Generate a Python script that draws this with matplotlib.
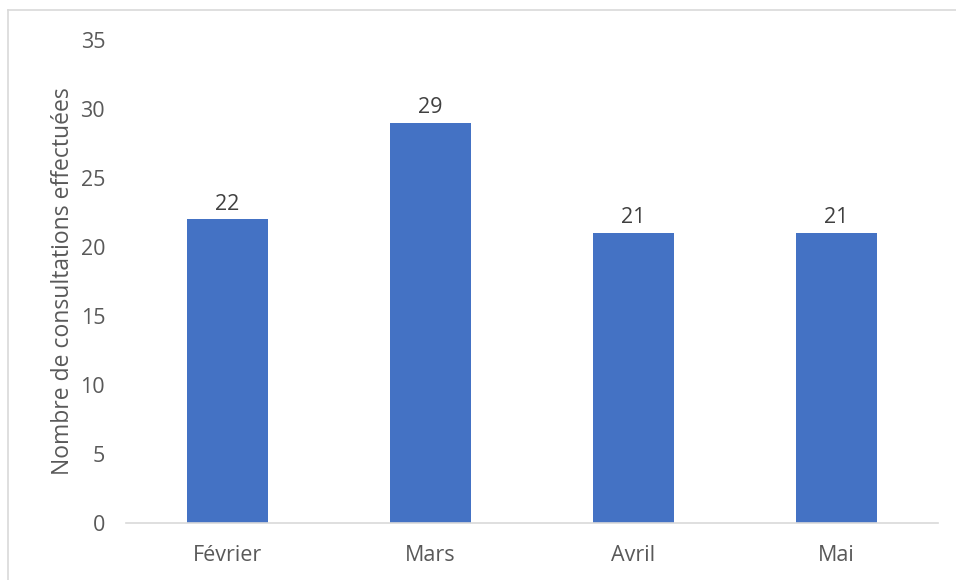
import matplotlib.pyplot as plt
from matplotlib.lines import Line2D

mois = ['Février', 'Mars', 'Avril', 'Mai']
consultations = [22, 29, 21, 21]
y_ticks = [0, 5, 10, 15, 20, 25, 30, 35]

plt.rcParams['font.family'] = ['Open Sans', 'DejaVu Sans']

fig = plt.figure(figsize=(9.56, 5.8), dpi=100)
ax = fig.add_axes([0.1318, 0.0983, 0.8492, 0.8327])

x = range(len(mois))
bars = ax.bar(x, consultations, width=0.4, color='#4472c4')

for b, v in zip(bars, consultations):
    ax.text(b.get_x() + b.get_width() / 2, v + 0.35, str(v),
            ha='center', va='bottom', fontsize=15.5, color='#404040')

ax.set_xlim(-0.5, len(mois) - 0.5)
ax.set_ylim(0, 35)
ax.set_yticks(y_ticks)
ax.set_xticks(list(x))
ax.set_xticklabels(mois)
ax.tick_params(axis='both', length=0, labelsize=15.5, colors='#595959')
ax.tick_params(axis='y', pad=15)
ax.tick_params(axis='x', pad=16)

for s in ['top', 'right', 'left']:
    ax.spines[s].set_visible(False)
ax.spines['bottom'].set_color('#d9d9d9')
ax.spines['bottom'].set_linewidth(1.2)

ax.set_ylabel('Nombre de consultations effectuées', fontsize=16.5,
              color='#595959', labelpad=4)

# cadre du graphique
fig.add_artist(Line2D([8 / 956, 1], [1 - 10 / 580, 1 - 10 / 580],
                      color='#d9d9d9', lw=1.2, transform=fig.transFigure))
fig.add_artist(Line2D([8 / 956, 8 / 956], [0, 1 - 10 / 580],
                      color='#d9d9d9', lw=1.2, transform=fig.transFigure))

fig.savefig('out.png', dpi=100)
